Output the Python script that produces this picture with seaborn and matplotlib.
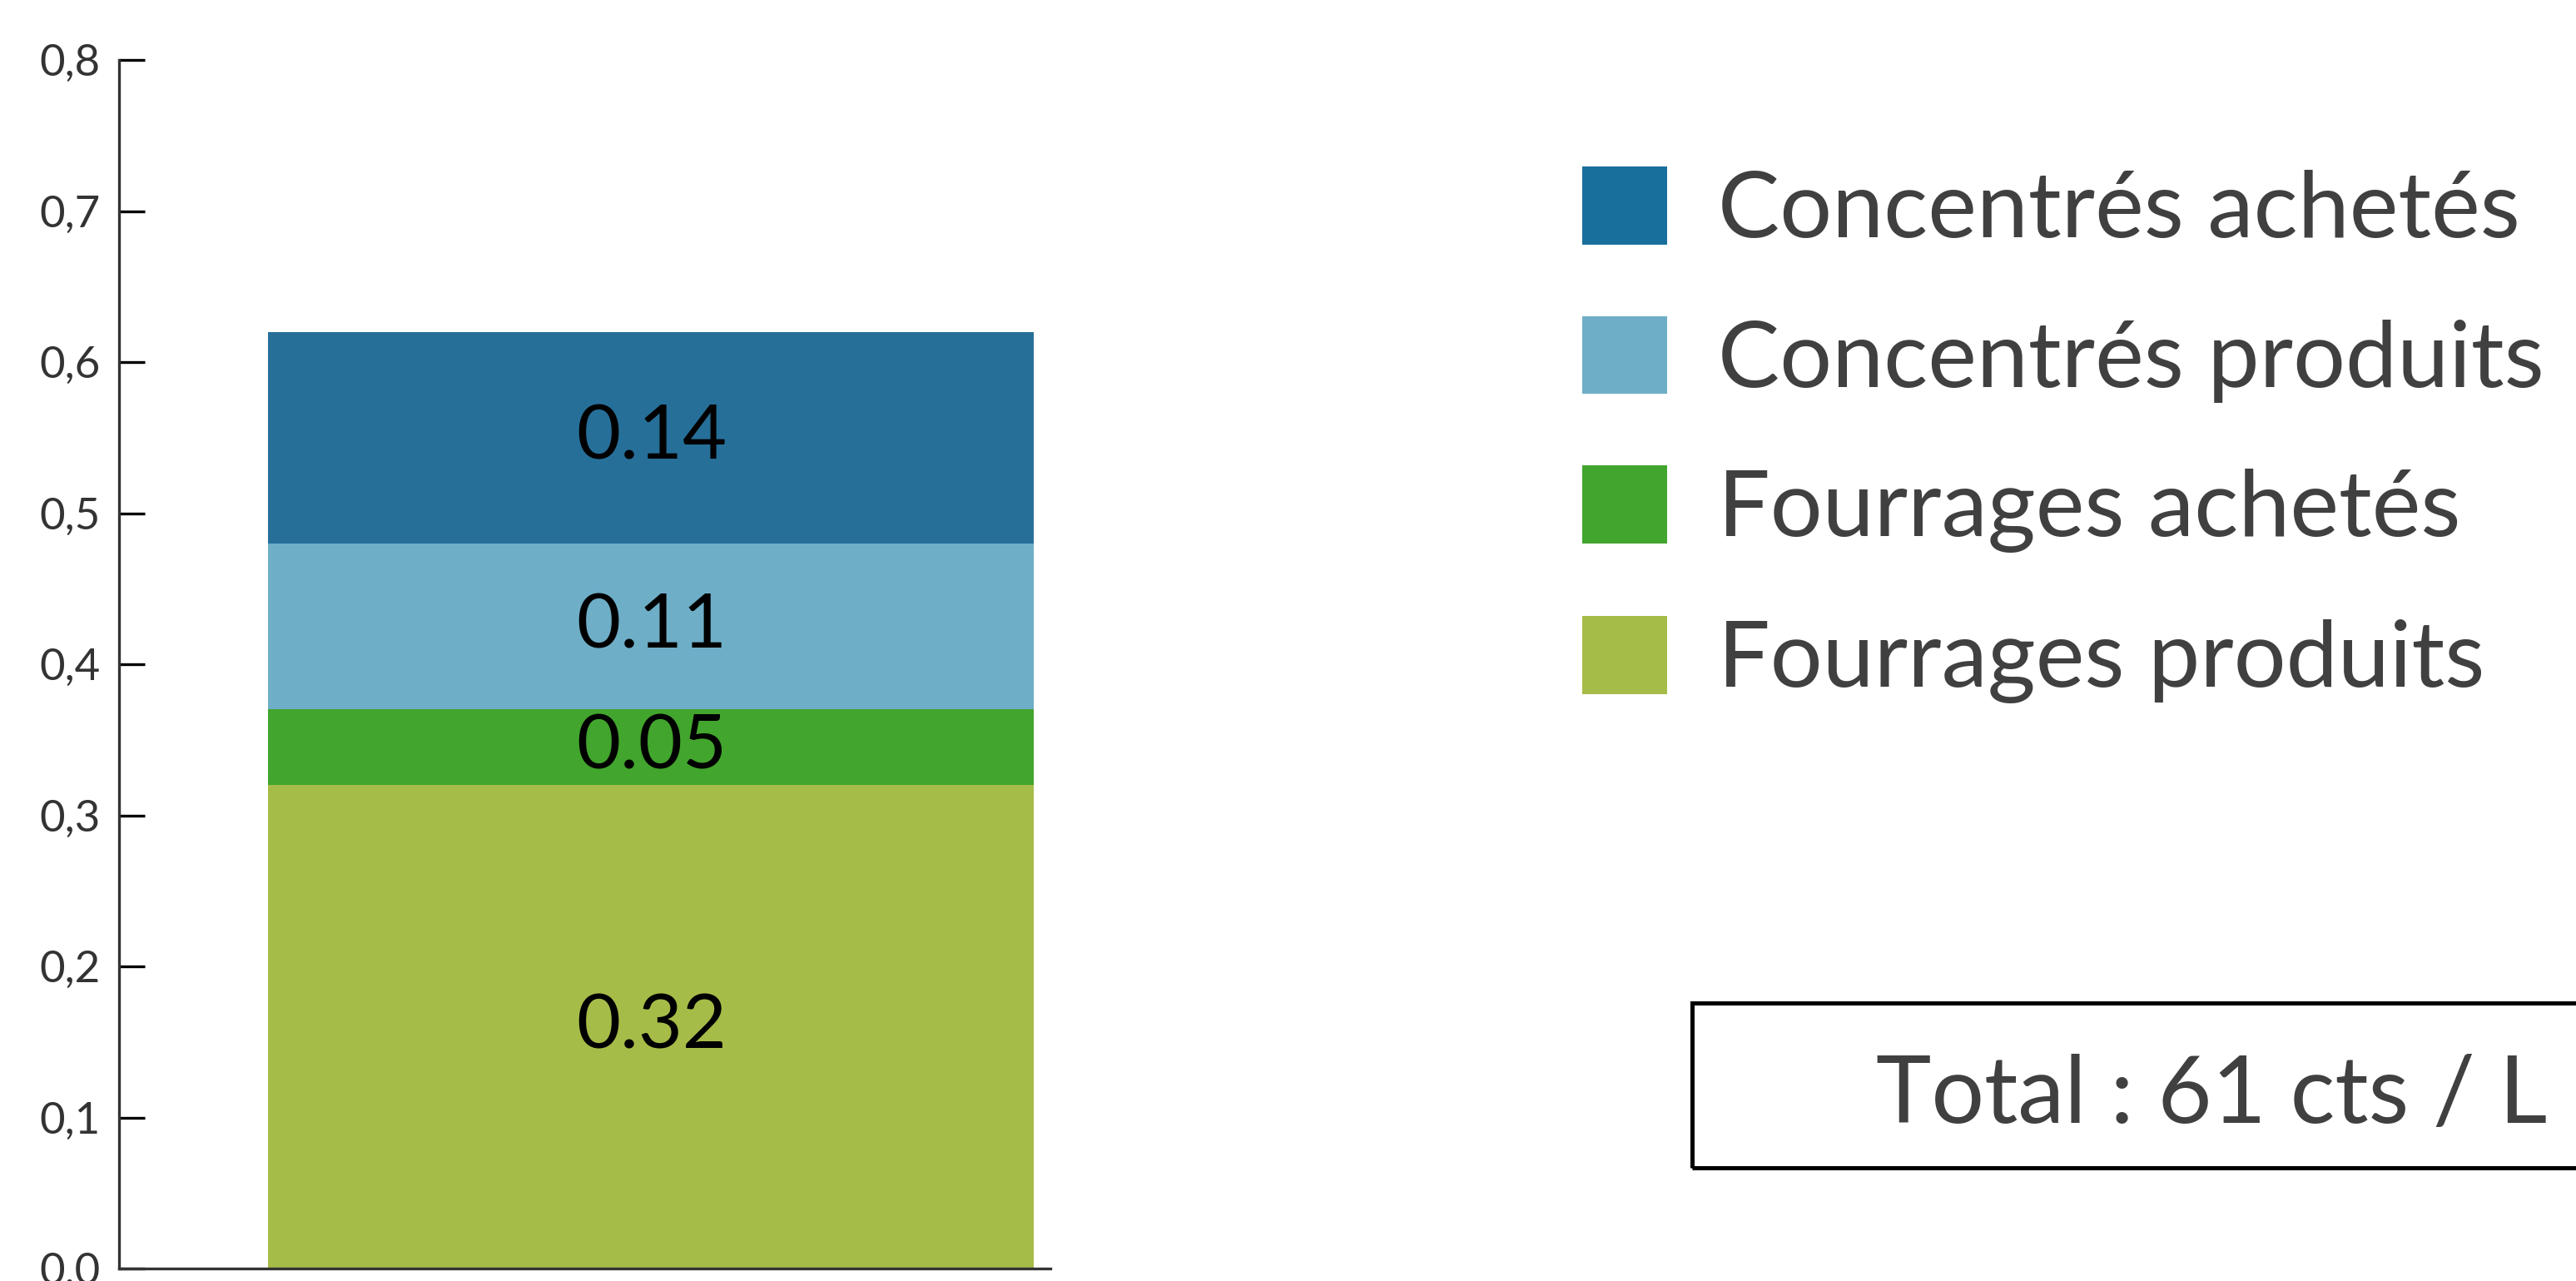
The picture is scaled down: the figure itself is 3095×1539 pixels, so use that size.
import matplotlib
matplotlib.use("Agg")
import matplotlib.pyplot as plt
import seaborn as sns
import pandas as pd
import numpy as np
from matplotlib.patches import Rectangle

# ---- data ----
group = ["lait"]
categories = ["Fourrages produits", "Fourrages achetés", "Concentrés produits", "Concentrés achetés"]
values = [0.32, 0.05, 0.11, 0.14]
bar_colors = ["#A6BC48", "#42A52D", "#6EAEC7", "#266F99"]
legend_colors = ["#A6BC48", "#42A52D", "#6EAEC7", "#196F9C"]
yticks = [0.0, 0.1, 0.2, 0.3, 0.4, 0.5, 0.6, 0.7, 0.8]
ytick_labels = ["0,0", "0,1", "0,2", "0,3", "0,4", "0,5", "0,6", "0,7", "0,8"]
total_text = "Total : 61 cts / L"

sns.set_theme(style="white")
plt.rcParams['font.family'] = ['Lato', 'DejaVu Sans']

fig = plt.figure(figsize=(30.95, 15.39), dpi=100)
ax = fig.add_axes([143/3095, 15/1539, (1262-143)/3095, (1525-73)/1539])

cum = np.cumsum(values)
df = pd.DataFrame({"x": group * len(categories), "cat": categories,
                   "top": cum, "value": values})

for i in reversed(range(len(categories))):
    sns.barplot(data=df.iloc[[i]], x="x", y="top", color=bar_colors[i],
                saturation=1, width=0.8, linewidth=0, label=categories[i], ax=ax)

for i in range(len(categories)):
    ax.text(0, cum[i] - values[i] / 2, f"{values[i]:.2f}", ha="center", va="center",
            fontsize=66, color="black")

ax.set_ylim(0, 0.8)
ax.set_xlim(-0.556, 0.417)
ax.set_yticks(yticks)
ax.set_yticklabels(ytick_labels)
ax.set_xticks([])
ax.set_xlabel("")
ax.set_ylabel("")
for s in ["top", "right"]:
    ax.spines[s].set_visible(False)
for s in ["left", "bottom"]:
    ax.spines[s].set_color("#333333")
    ax.spines[s].set_linewidth(2.4)
ax.tick_params(axis="y", direction="in", length=22, width=2.4, color="black",
               pad=16, labelsize=38, labelcolor="#333333", left=True)
ax.patch.set_alpha(0)

handles, labels = ax.get_legend_handles_labels()
if ax.get_legend() is not None:
    ax.get_legend().remove()
leg = fig.legend(handles, labels, loc="upper left", bbox_to_anchor=(1901/3095, 1 - 200/1539),
                 frameon=False, fontsize=80, handlelength=0.92, handleheight=0.92,
                 handletextpad=0.55, labelspacing=0.68, borderpad=0, borderaxespad=0)
for t in leg.get_texts():
    t.set_color("#404040")
for h, c in zip(leg.legend_handles, legend_colors[::-1]):
    h.set_facecolor(c)
    h.set_edgecolor("none")

fig.patches.append(Rectangle((2033/3095, 1 - 1403/1539), 0.5, (1403-1205)/1539,
                             transform=fig.transFigure, fill=False,
                             edgecolor="black", linewidth=3.6))
fig.text(2254/3095, 1 - 1349/1539, total_text, ha="left", va="baseline",
         fontsize=81, color="#404040")

fig.savefig("out.png", dpi=100, facecolor="white")
